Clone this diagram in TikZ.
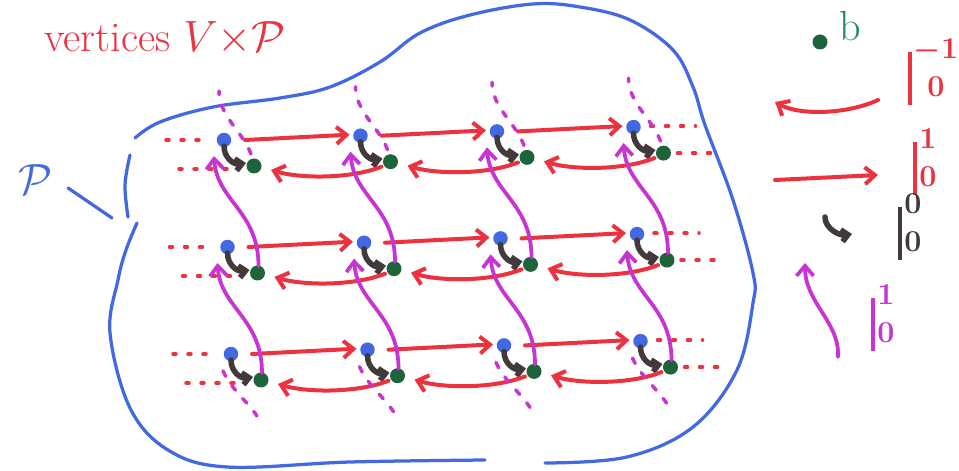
\documentclass[tikz,border=0pt]{standalone}
\usepackage{amsmath,amssymb}
\usepackage{tikz}
\usetikzlibrary{arrows.meta}

\definecolor{penblue}{RGB}{66,104,226}
\definecolor{penred}{RGB}{236,50,62}
\definecolor{penpink}{RGB}{200,52,210}
\definecolor{pengreen}{RGB}{30,100,58}
\definecolor{penteal}{RGB}{36,140,96}
\definecolor{pendark}{RGB}{66,58,58}
\newcommand{\shiftlabel}[2]{\rule[-0.5cm]{0.08cm}{1.05cm}{\boldmath$\genfrac{}{}{0pt}{}{#1}{#2}$}}

\begin{document}
\begin{tikzpicture}[x=0.02cm, y=0.02cm, >={Straight Barb[length=0.2cm,width=0.34cm]},
  bluedot/.style={circle, fill=penblue, inner sep=0pt, minimum size=0.29cm},
  greendot/.style={circle, fill=pengreen, inner sep=0pt, minimum size=0.3cm},
  hop/.style={->, penred, line width=0.08cm, line cap=round},
  lift/.style={->, penpink, line width=0.075cm, line cap=round},
  twist/.style={-{Straight Barb[length=0.13cm,width=0.24cm]}, pendark, line width=0.11cm, line cap=round},
  redtrail/.style={penred, line width=0.07cm, line cap=round, dash pattern=on 0.06cm off 0.24cm},
  pinktrail/.style={penpink, line width=0.07cm, line cap=round, dash pattern=on 0.12cm off 0.22cm},
  blob/.style={penblue, line width=0.065cm, line cap=round},
  big/.style={font=\fontsize{24}{28}\selectfont, inner sep=1pt}]

\useasboundingbox (0,0) rectangle (959,470);

% ---------- the set P ----------
\draw[blob] plot[smooth, tension=0.6] coordinates {(135,332) (160,348) (213,363) (280,372)
  (330,383) (380,408) (420,437) (470,455) (533,466) (580,463) (630,450) (673,420) (693,383)
  (705,345) (733,270) (753,197) (753,167) (737,100) (693,43) (627,13) (545,7)};
\draw[blob] plot[smooth, tension=0.6] coordinates {(485,10) (350,8) (227,3) (168,20)
  (130,62) (110,137) (118,190) (126,220) (137,247)};
\draw[blob] plot[smooth, tension=0.6] coordinates {(130,315) (125,285) (128,253)};

\node[penblue, font=\fontsize{40}{44}\selectfont] (pset) at (35,290) {$\mathcal{P}$};
\coordinate (ptr) at (68,282);
\coordinate (blobedge) at (112,252);
\draw[blob] (ptr) -- (blobedge);

\node[penred, big] (title) at (165,432) {vertices $V{\times}\mathcal{P}$};

% ---------- vertices: blue and green copies ----------
\foreach \r in {0,1,2}{
  \foreach \c in {0,1,2,3}{
    \node[bluedot]  (b-\r-\c) at ({224+3.5*\r+136.5*\c},{330-107*\r+4.3*\c}) {};
    \node[greendot] (g-\r-\c) at ([shift={(30,-26)}]b-\r-\c.center) {};
    \draw[twist] ([shift={(0,-6)}]b-\r-\c.center) .. controls +(0,-12) and +(-12,-2)
      .. ([shift={(-8,3)}]g-\r-\c.center);
  }
}

% ---------- horizontal edges ----------
\foreach \r in {0,1,2}{
  \foreach \c/\n in {0/1,1/2,2/3}{
    \draw[hop] ([shift={(21,0)}]b-\r-\c.center) -- ([shift={(-11,1)}]b-\r-\n.center);
    \draw[hop] ([shift={(-9,-5)}]g-\r-\n.center) .. controls +(-30,-12) and +(30,-9)
      .. ([shift={(17,-4)}]g-\r-\c.center);
  }
  \draw[redtrail] ([shift={(-58,0)}]b-\r-0.center) -- ([shift={(-18,0)}]b-\r-0.center);
  \draw[redtrail] ([shift={(-75,-3)}]g-\r-0.center) -- ([shift={(-20,-3)}]g-\r-0.center);
  \draw[redtrail] ([shift={(17,1)}]b-\r-3.center) -- ([shift={(62,1)}]b-\r-3.center);
  \draw[redtrail] ([shift={(14,0)}]g-\r-3.center) -- ([shift={(58,0)}]g-\r-3.center);
}

% ---------- vertical edges ----------
\foreach \r/\s in {0/1,1/2}{
  \foreach \c in {0,1,2,3}{
    \draw[lift] ([shift={(1,7)}]g-\s-\c.center) .. controls +(0,55) and +(3,-45)
      .. ([shift={(-10,-16)}]b-\r-\c.center);
  }
}
\foreach \c in {0,1,2,3}{
  \draw[pinktrail] ([shift={(-3,12)}]g-0-\c.center) .. controls +(-8,22) and +(0,-25)
    .. ([shift={(-35,75)}]g-0-\c.center);
  \draw[pinktrail] ([shift={(-8,-17)}]b-2-\c.center) .. controls +(8,-18) and +(-10,15)
    .. ([shift={(26,-62)}]b-2-\c.center);
}

% ---------- legend ----------
\node[greendot] (bdot) at (820,428) {};
\node[penteal, big] (blabel) at (850,444) {b};

\coordinate (back-s) at (878,370);
\coordinate (back-e) at (775,368);
\draw[hop] (back-s) .. controls +(-30,-14) and +(25,-14) .. (back-e);
\node[penred, big] (back-l) at (934,398) {\shiftlabel{-1}{0}};

\coordinate (fwd-s) at (775,290);
\coordinate (fwd-e) at (878,295);
\draw[hop] (fwd-s) -- (fwd-e);
\node[penred, big] (fwd-l) at (926,308) {\shiftlabel{1}{0}};

\coordinate (stay-s) at (825,253);
\coordinate (stay-e) at (852,236);
\draw[twist] (stay-s) .. controls +(0,-12) and +(-12,-2) .. (stay-e);
\node[pendark, big] (stay-l) at (911,243) {\shiftlabel{0}{0}};

\coordinate (up-s) at (838,113);
\coordinate (up-e) at (805,207);
\draw[lift] (up-s) .. controls +(2,35) and +(0,-40) .. (up-e);
\node[penpink, big] (up-l) at (884,152) {\shiftlabel{1}{0}};

\end{tikzpicture}
\end{document}
